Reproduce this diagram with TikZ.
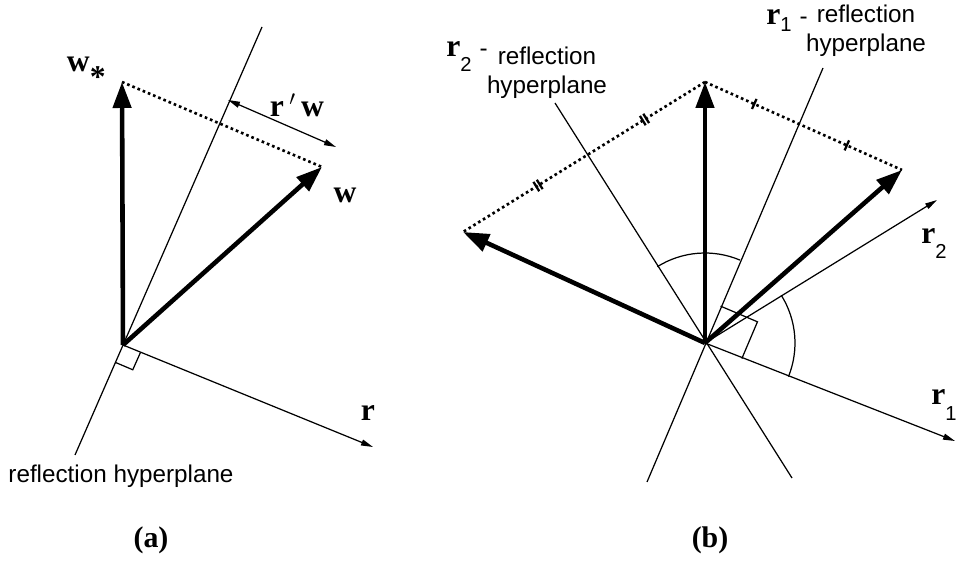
\documentclass[tikz,border=0pt]{standalone}
\usepackage{fontspec}
\setmainfont{Liberation Serif}
\setsansfont{Liberation Sans}
\usetikzlibrary{arrows.meta,calc}

\newcommand{\rsub}[2][-8pt]{\raisebox{#1}{\mdseries\sffamily\fontsize{11.5}{11.5}\selectfont #2}}

\begin{document}
\begin{tikzpicture}[
  x=0.02cm, y=0.02cm,
  vecarrow/.style={line width=2.6pt, -{Triangle[length=0.52cm, width=0.36cm]}},
  thinarrow/.style={line width=0.7pt, -{Triangle[length=0.24cm, width=0.12cm]}},
  hypline/.style={line width=0.7pt},
  dotline/.style={line width=1.5pt, dash pattern=on 1.5pt off 1.7pt},
  tickmark/.style={sloped, draw, solid, line width=1.3pt, inner sep=0pt,
    minimum width=0pt, minimum height=0.22cm},
  lbl/.style={inner sep=0pt, font=\fontsize{18}{21}\selectfont\bfseries},
  hyptext/.style={inner sep=0pt, align=center, font=\fontsize{13.8}{16.2}\selectfont\sffamily},
  sublabel/.style={inner sep=0pt, font=\fontsize{17}{20}\selectfont\bfseries}
]
  \useasboundingbox (0,0) rectangle (957,561);

  % (a) one reflection
  \coordinate (Oa)  at (123,216);
  \coordinate (wsa) at (122,479);
  \coordinate (wa)  at (322,394);
  \coordinate (ra)  at (373,114);
  \coordinate (hta) at (262,534);
  \coordinate (hba) at (75,106);
  \coordinate (da)  at (228,461);
  \coordinate (de)  at (336,414);

  \draw[hypline] (hba) -- (hta);
  \draw[dotline] (wsa) -- (wa);
  \draw[vecarrow] (Oa) -- (wsa);
  \draw[vecarrow] (Oa) -- (wa);
  \draw[thinarrow] (Oa) -- (ra);
  \draw[hypline] (Oa) ++(246:19) -- ++(-23:19) -- ++(66:19);
  \draw[thinarrow, {Triangle[length=0.24cm, width=0.12cm]}-{Triangle[length=0.24cm, width=0.12cm]}] (da) -- (de);

  \node[lbl, anchor=base east] (wslbl) at (106,489) {w\raisebox{-0.5em}{*}};
  \node[lbl] (wlbl)  at (345,366) {w};
  \node[lbl] (rlbl)  at (368,148) {r};
  \node[lbl] (rwlbl) at (297,456) {r\,$'$\,w};
  \node[hyptext] (hlbla) at (121,85) {reflection hyperplane};
  \node[sublabel] (capa) at (151,21) {(a)};

  % (b) two reflections
  \coordinate (Ob)  at (705,218);
  \coordinate (tb)  at (705,479);
  \coordinate (wb)  at (902,391);
  \coordinate (lb)  at (463,329);
  \coordinate (r1b) at (955,120);
  \coordinate (r2b) at (937,361);
  \coordinate (h1t) at (823,493);
  \coordinate (h1b) at (647,79);
  \coordinate (h2t) at (555,458);
  \coordinate (h2b) at (792,83);

  \draw[hypline] (h1b) -- (h1t);
  \draw[hypline] (h2b) -- (h2t);
  \draw[dotline] (tb) -- node[tickmark, pos=.243] (k1) {} node[tickmark, pos=.257] (k2) {}
    node[tickmark, pos=.683] (k3) {} node[tickmark, pos=.697] (k4) {} (lb);
  \draw[dotline] (tb) -- node[tickmark, pos=.25] (k5) {} node[tickmark, pos=.72] (k6) {} (wb);
  \draw[vecarrow] (Ob) -- (tb);
  \draw[vecarrow] (Ob) -- (wb);
  \draw[vecarrow] (Ob) -- (lb);
  \draw[thinarrow] (Ob) -- (r1b);
  \draw[thinarrow] (Ob) -- (r2b);
  \draw[hypline] (Ob) ++(67:40) -- ++(-23:40) -- ++(247:40);
  \draw[hypline] (Ob) ++(67:1.8cm) arc[start angle=67, end angle=122, radius=1.8cm];
  \draw[hypline] (Ob) ++(-22:1.8cm) arc[start angle=-22, end angle=32, radius=1.8cm];

  \node[lbl, anchor=base west] (r2lbl) at (921,317) {r\rsub{2}};
  \node[lbl, anchor=base west] (r1lbl) at (931,156) {r\rsub[-9pt]{1}};
  \node[lbl, anchor=base east] (h2lbl) at (488,504)
    {r\rsub{2} {\mdseries\sffamily\fontsize{13.8}{16}\selectfont -}};
  \node[hyptext, anchor=north] (h2txt) at (547,514) {reflection\\hyperplane};
  \node[lbl, anchor=base east] (h1lbl) at (808,536)
    {r\rsub[-3.5pt]{1} {\mdseries\sffamily\fontsize{13.8}{16}\selectfont -}};
  \node[hyptext, anchor=north] (h1txt) at (866,556) {reflection\\hyperplane};
  \node[sublabel] (capb) at (710,21) {(b)};
\end{tikzpicture}
\end{document}
